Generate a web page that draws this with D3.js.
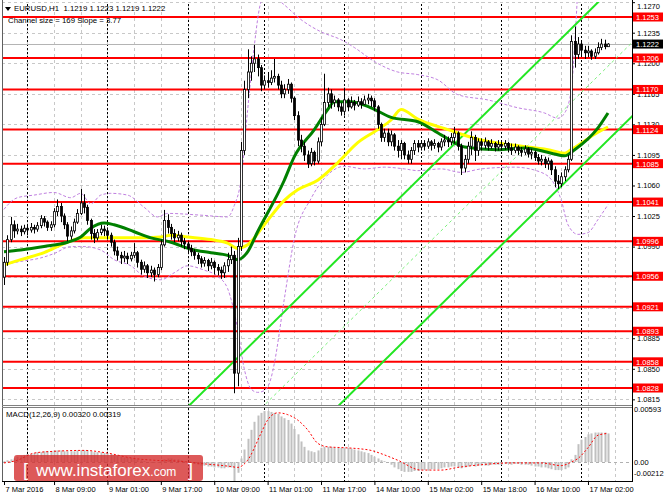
<!DOCTYPE html>
<html><head><meta charset="utf-8">
<script src="https://cdn.jsdelivr.net/npm/d3@7"></script>
<style>body{margin:0;background:#fff}svg{display:block}text{font-family:"Liberation Sans",Arial,sans-serif}</style>
</head><body><svg id="c" width="664" height="498"></svg>
<script>
// ---------- DATA ----------
const symbolTitle = "EURUSD,H1";
const lastQuote = [1.1219, 1.1223, 1.1219, 1.1222];
const channelInfo = "Channel size = 169 Slope = 3.77";
const macdInfo = "MACD(12,26,9) 0.00320 0.00319";
const firstOpen = 1.0955;
const closes = [1.0972,1.0998,1.1015,1.1008,1.1010,1.1007,1.1011,1.1009,1.1012,1.1010,1.1014,1.1022,1.1018,1.1012,1.1015,1.1030,1.1036,1.1025,1.1015,1.1002,
1.1008,1.1018,1.1028,1.1040,1.1035,1.1020,1.1005,1.1000,1.1006,1.1010,1.1008,1.1003,1.0995,1.0985,1.0980,1.0977,1.0979,1.0976,1.0980,1.0983,
1.0972,1.0964,1.0968,1.0960,1.0963,1.0958,1.0966,1.0992,1.1020,1.1012,1.1005,1.1000,1.1003,1.0996,1.0993,1.0988,1.0984,1.0980,1.0976,1.0971,
1.0974,1.0968,1.0972,1.0966,1.0963,1.0960,1.0968,1.0975,1.0980,1.0845,1.0990,1.1100,1.1170,1.1190,1.1200,1.1205,1.1195,1.1175,1.1180,1.1178,
1.1183,1.1185,1.1175,1.1165,1.1170,1.1176,1.1160,1.1140,1.1112,1.1105,1.1095,1.1085,1.1098,1.1088,1.1110,1.1130,1.1155,1.1165,1.1155,1.1158,
1.1150,1.1145,1.1158,1.1150,1.1155,1.1152,1.1156,1.1153,1.1158,1.1160,1.1157,1.1150,1.1130,1.1115,1.1120,1.1110,1.1118,1.1105,1.1100,1.1108,
1.1095,1.1090,1.1100,1.1108,1.1104,1.1108,1.1105,1.1110,1.1106,1.1108,1.1104,1.1110,1.1112,1.1110,1.1115,1.1120,1.1105,1.1080,1.1090,1.1105,
1.1115,1.1100,1.1110,1.1106,1.1110,1.1105,1.1108,1.1104,1.1107,1.1105,1.1108,1.1103,1.1100,1.1104,1.1100,1.1098,1.1102,1.1096,1.1098,1.1092,
1.1088,1.1090,1.1085,1.1088,1.1078,1.1065,1.1062,1.1070,1.1078,1.1090,1.1225,1.1210,1.1222,1.1215,1.1212,1.1214,1.1208,1.1212,1.1218,1.1222,
1.1219,1.1222];
const highs = [1.0978,1.1003,1.1024,1.1020,1.1016,1.1014,1.1015,1.1014,1.1017,1.1015,1.1018,1.1026,1.1025,1.1020,1.1019,1.1034,1.1044,1.1040,1.1028,1.1018,
1.1013,1.1022,1.1033,1.1056,1.1050,1.1038,1.1022,1.1010,1.1010,1.1015,1.1014,1.1012,1.1006,1.0998,1.0990,1.0984,1.0985,1.0983,1.0984,1.0994,
1.0985,1.0975,1.0973,1.0970,1.0968,1.0966,1.0970,1.0998,1.1032,1.1027,1.1016,1.1010,1.1008,1.1006,1.1000,1.0996,1.0992,1.0987,1.0983,1.0979,
1.0978,1.0976,1.0977,1.0974,1.0970,1.0967,1.0972,1.0983,1.0990,1.0985,1.1000,1.1110,1.1180,1.1216,1.1208,1.1221,1.1210,1.1198,1.1186,1.1190,
1.1192,1.1205,1.1188,1.1180,1.1176,1.1182,1.1178,1.1162,1.1145,1.1118,1.1110,1.1100,1.1103,1.1100,1.1115,1.1138,1.1188,1.1172,1.1170,1.1163,
1.1160,1.1155,1.1172,1.1160,1.1162,1.1158,1.1162,1.1160,1.1163,1.1165,1.1163,1.1160,1.1152,1.1132,1.1125,1.1125,1.1123,1.1120,1.1112,1.1112,
1.1110,1.1100,1.1104,1.1112,1.1112,1.1112,1.1112,1.1114,1.1112,1.1113,1.1110,1.1114,1.1118,1.1116,1.1120,1.1127,1.1122,1.1108,1.1095,1.1110,
1.1122,1.1118,1.1114,1.1114,1.1115,1.1112,1.1113,1.1110,1.1112,1.1110,1.1112,1.1110,1.1108,1.1108,1.1106,1.1104,1.1106,1.1104,1.1102,1.1100,
1.1096,1.1095,1.1093,1.1092,1.1090,1.1082,1.1072,1.1075,1.1082,1.1095,1.1232,1.1242,1.1230,1.1225,1.1220,1.1220,1.1216,1.1217,1.1224,1.1228,
1.1227,1.1223];
const lows = [1.0946,1.0968,1.0995,1.1000,1.1004,1.1002,1.1004,1.1003,1.1006,1.1005,1.1007,1.1011,1.1013,1.1008,1.1008,1.1012,1.1025,1.1018,1.1010,1.0996,
1.0998,1.1005,1.1016,1.1026,1.1028,1.1015,1.0998,1.0994,1.0997,1.1003,1.1002,1.0998,1.0990,1.0980,1.0974,1.0970,1.0972,1.0970,1.0973,1.0977,
1.0966,1.0958,1.0960,1.0954,1.0955,1.0950,1.0955,1.0963,1.0990,1.1005,1.0998,1.0995,1.0996,1.0990,1.0987,1.0983,1.0979,1.0975,1.0970,1.0966,
1.0967,1.0962,1.0964,1.0958,1.0957,1.0953,1.0954,1.0961,1.0970,1.0822,1.0830,1.0985,1.1095,1.1160,1.1180,1.1190,1.1185,1.1168,1.1170,1.1172,
1.1175,1.1178,1.1170,1.1160,1.1160,1.1165,1.1155,1.1135,1.1105,1.1098,1.1088,1.1080,1.1082,1.1083,1.1085,1.1105,1.1128,1.1150,1.1148,1.1150,
1.1145,1.1140,1.1140,1.1145,1.1148,1.1146,1.1150,1.1148,1.1152,1.1153,1.1150,1.1145,1.1125,1.1110,1.1110,1.1105,1.1105,1.1100,1.1092,1.1090,
1.1090,1.1085,1.1085,1.1095,1.1098,1.1100,1.1100,1.1102,1.1100,1.1102,1.1098,1.1100,1.1105,1.1104,1.1106,1.1108,1.1100,1.1072,1.1075,1.1085,
1.1095,1.1088,1.1094,1.1100,1.1102,1.1100,1.1102,1.1099,1.1100,1.1100,1.1101,1.1098,1.1095,1.1097,1.1095,1.1093,1.1095,1.1092,1.1090,1.1088,
1.1084,1.1083,1.1080,1.1078,1.1072,1.1058,1.1056,1.1058,1.1065,1.1075,1.1088,1.1195,1.1205,1.1208,1.1205,1.1207,1.1204,1.1205,1.1210,1.1215,
1.1216,1.1219];
// moving averages (bar index, price)
const maGreenBars = [0,5,12,19,23,26,30,33,39,44,50,56,62,67,70,73,76,84,87,93,97,99,104,110,116,124,131,138,148,156,164,168,171,178,181];
const maGreen = [1.0984,1.0986,1.0990,1.0995,1.1001,1.1011,1.1017,1.1015,1.1007,1.1000,1.0995,1.0987,1.0983,1.0980,1.0975,1.0984,1.1007,1.1066,1.1093,1.1124,1.1147,1.1156,1.1156,1.1149,1.1138,1.1133,1.1118,1.1104,1.1101,1.1103,1.1097,1.1094,1.1101,1.1126,1.1143];
const maYellowBars = [0,5,12,19,24,29,39,47,50,55,62,67,70,73,78,84,88,94,100,106,112,116,119,124,133,143,153,163,168,170,178,181];
const maYellow = [1.0969,1.0975,1.0983,1.0995,1.1000,1.1000,1.1000,1.1001,1.1003,1.1001,1.0998,1.0994,1.0988,1.0992,1.1015,1.1043,1.1055,1.1066,1.1086,1.1109,1.1124,1.1135,1.1147,1.1136,1.1124,1.1112,1.1106,1.1101,1.1097,1.1101,1.1121,1.1127];
// envelope bands
const bandUpperBars = [-1,4,9,15,20,23,26,29,32,37,42,46,49,59,67,69,71,73,75,77,79,83,89,95,101,105,111,118,124,130,136,145,154,162,166,168,170,171,172];
const bandUpper = [1.1028,1.1046,1.1049,1.1052,1.1046,1.1051,1.1039,1.1049,1.1051,1.1049,1.1035,1.1024,1.1028,1.1026,1.1024,1.1037,1.1066,1.1146,1.1220,1.1270,1.1280,1.1270,1.1250,1.1236,1.1227,1.1218,1.1202,1.1190,1.1187,1.1181,1.1164,1.1158,1.1149,1.1143,1.1137,1.1143,1.1170,1.1220,1.1290];
const bandLowerBars = [-1,5,11,15,20,24,29,33,38,42,47,51,55,60,64,67,70,72,74,76,78,80,81,84,87,92,96,102,108,114,120,124,131,137,143,153,161,165,167,169,172,175,178,181];
const bandLower = [1.0969,1.0973,1.0977,1.0982,1.0990,1.0990,1.0986,1.0975,1.0968,1.0956,1.0952,1.0960,1.0968,1.0963,1.0956,1.0942,1.0896,1.0850,1.0827,1.0823,1.0825,1.0839,1.0856,1.0930,1.0999,1.1045,1.1068,1.1082,1.1079,1.1081,1.1079,1.1077,1.1079,1.1075,1.1079,1.1081,1.1075,1.1061,1.1043,1.1015,1.1004,1.1006,1.1021,1.1038];
// regression channel
const channelAnchor = [75, 1.0797];
const channelSlope = 0.000377;
const channelSize = 0.0169;
// MACD histogram per bar, signal (bar, value)
const macdMain = [0.0001,0.0002,0.0003,0.0004,0.0006,0.0007,0.0008,0.0009,0.0009,0.0010,0.0011,0.0011,0.0012,0.0012,0.0012,0.0013,0.0013,0.0013,0.0012,0.0012,
0.0012,0.0012,0.0013,0.0013,0.0013,0.0013,0.0012,0.0011,0.0011,0.0011,0.0010,0.0010,0.0009,0.0008,0.0007,0.0006,0.0005,0.0005,0.0004,0.0004,
0.0003,0.0002,0.0001,0.0000,-0.0001,-0.0001,-0.0001,0.0001,0.0003,0.0004,0.0004,0.0003,0.0003,0.0002,0.0001,0.0000,-0.0001,-0.0002,-0.0003,-0.0004,
-0.0004,-0.0005,-0.0005,-0.0006,-0.0006,-0.0007,-0.0007,-0.0006,-0.0006,-0.00212,-0.0012,0.0004,0.0014,0.0026,0.0036,0.0045,0.0052,0.0055,0.0057,0.0057,
0.0056,0.0055,0.0054,0.0051,0.0049,0.0047,0.0043,0.0037,0.0031,0.0023,0.0017,0.0013,0.0012,0.0011,0.0013,0.0016,0.0017,0.0017,0.0017,0.0016,
0.0016,0.0016,0.0016,0.0016,0.0015,0.0014,0.0013,0.0012,0.0011,0.0010,0.0008,0.0006,0.0004,0.0002,0.0001,0.0000,-0.0003,-0.0006,-0.0008,-0.0010,
-0.0011,-0.0011,-0.0011,-0.0010,-0.0010,-0.0009,-0.0009,-0.0009,-0.0008,-0.0008,-0.0008,-0.0007,-0.0006,-0.0006,-0.0005,-0.0005,-0.0006,-0.0007,-0.0006,-0.0005,
-0.0004,-0.0005,-0.0004,-0.0004,-0.0004,-0.0004,-0.0003,-0.0003,-0.0003,-0.0003,-0.0002,-0.0002,-0.0003,-0.0002,-0.0002,-0.0003,-0.0003,-0.0003,-0.0004,-0.0005,
-0.0005,-0.0006,-0.0006,-0.0007,-0.0008,-0.0009,-0.0009,-0.0009,-0.0008,-0.0006,0.0003,0.0008,0.0020,0.0025,0.0028,0.0031,0.0032,0.0033,0.0033,0.0033,
0.0033,0.0032];
const macdSignalBars = [0,4,9,15,24,31,39,45,52,60,68,70,73,77,79,82,85,88,91,94,97,102,106,110,114,118,125,131,136,143,152,161,167,170,172,175,178,181];
const macdSignal = [-0.0001,0.0002,0.0010,0.0012,0.0013,0.0010,0.0004,0.0002,0.0001,-0.0002,-0.0005,-0.0006,0.0002,0.0032,0.0047,0.0055,0.0053,0.0047,0.0036,0.0021,0.0017,0.0016,0.0015,0.0013,0.0008,0.0002,-0.0009,-0.0009,-0.0006,-0.0003,-0.0001,-0.0001,-0.0004,0.0000,0.0004,0.0016,0.0030,0.0032];
// axes
const priceTicks = [1.1270,1.1235,1.1200,1.1165,1.1130,1.1095,1.1060,1.1025,1.0990,1.0955,1.0920,1.0885,1.0850,1.0815];
const levels = [1.1253,1.1206,1.1170,1.1124,1.1085,1.1041,1.0996,1.0956,1.0921,1.0893,1.0858,1.0828];
const currentPrice = 1.1222;
const timeTickBars = [0,15,31,47,63,79,95,111,127,143,159,175];
const timeTickLabels = ["7 Mar 2016","8 Mar 09:00","9 Mar 01:00","9 Mar 17:00","10 Mar 09:00","11 Mar 01:00","11 Mar 17:00","14 Mar 10:00","15 Mar 02:00","15 Mar 18:00","16 Mar 10:00","17 Mar 02:00"];
const daySeparatorBars = [7,31,55,78,102,125,149,173];
const macdTickLabels = ["0.00593","0.00","-0.00212"];

// ---------- DRAW ----------
const svg = d3.select("#c");
const L = 2, R = 632, T = 2, B = 405, MT = 408, MB = 481;
const x = d3.scaleLinear().domain([0, 181]).range([4, 608]);
const y = d3.scaleLinear().domain([1.0828, 1.1253]).range([388, 17]);
const ym = d3.scaleLinear().domain([-0.00212, 0.00593]).range([481, 409]);
const opens = closes.map((c, i) => i === 0 ? firstOpen : closes[i - 1]);

const defs = svg.append("defs");
defs.append("clipPath").attr("id", "cm").append("rect").attr("x", L).attr("y", T).attr("width", R - L).attr("height", B - T);
defs.append("clipPath").attr("id", "cd").append("rect").attr("x", L).attr("y", MT).attr("width", R - L).attr("height", MB - MT);

svg.append("rect").attr("width", 664).attr("height", 498).attr("fill", "#fff");

const gm = svg.append("g").attr("clip-path", "url(#cm)");
const gd = svg.append("g").attr("clip-path", "url(#cd)");

// grids
const vgrid = d3.range(7, 190, 8);
[gm, gd].forEach(g => {
  g.selectAll("line.vg").data(vgrid).join("line").attr("class", "vg")
    .attr("x1", d => Math.round(x(d)) + .5).attr("x2", d => Math.round(x(d)) + .5).attr("y1", 0).attr("y2", 498)
    .attr("stroke", "#c8c8c8").attr("stroke-dasharray", "3,3");
  g.selectAll("line.ds").data(daySeparatorBars).join("line").attr("class", "ds")
    .attr("x1", d => Math.round(x(d)) + .5).attr("x2", d => Math.round(x(d)) + .5).attr("y1", 0).attr("y2", 498)
    .attr("stroke", "#000").attr("stroke-dasharray", "2,2");
});
gm.selectAll("line.hg").data(priceTicks).join("line")
  .attr("x1", L).attr("x2", R).attr("y1", d => Math.round(y(d)) + .5).attr("y2", d => Math.round(y(d)) + .5)
  .attr("stroke", "#c8c8c8").attr("stroke-dasharray", "3,3");
gd.append("line").attr("x1", L).attr("x2", R).attr("y1", Math.round(ym(0)) + .5).attr("y2", Math.round(ym(0)) + .5)
  .attr("stroke", "#b0b0b0").attr("stroke-dasharray", "3,3");

// current price line
gm.append("line").attr("x1", L).attr("x2", R).attr("y1", Math.round(y(currentPrice)) + .5).attr("y2", Math.round(y(currentPrice)) + .5)
  .attr("stroke", "#b4b4b4");

// red levels
gm.selectAll("line.lv").data(levels).join("line")
  .attr("x1", L).attr("x2", R).attr("y1", d => y(d)).attr("y2", d => y(d))
  .attr("stroke", "#ff0000").attr("stroke-width", 2);

// bands
const lineGen = (xs, ys, sc) => d3.line().x((d, i) => x(xs[i])).y(d => sc(d)).curve(d3.curveMonotoneX)(ys);
gm.append("path").attr("d", lineGen(bandUpperBars, bandUpper, y)).attr("fill", "none").attr("stroke", "#c080e0").attr("stroke-dasharray", "3,2");
gm.append("path").attr("d", lineGen(bandLowerBars, bandLower, y)).attr("fill", "none").attr("stroke", "#c080e0").attr("stroke-dasharray", "3,2");

// channel
const chan = off => {
  const i0 = 40, i1 = 195;
  const p = i => channelAnchor[1] + (i - channelAnchor[0]) * channelSlope + off;
  return [[x(i0), y(p(i0))], [x(i1), y(p(i1))]];
};
gm.append("path").attr("d", d3.line()(chan(channelSize / 2))).attr("stroke", "#22e622").attr("stroke-width", 2);
gm.append("path").attr("d", d3.line()(chan(-channelSize / 2))).attr("stroke", "#22e622").attr("stroke-width", 2);
gm.append("path").attr("d", d3.line()(chan(0))).attr("stroke", "#7cf07c").attr("stroke-dasharray", "3,3");

// MAs
gm.append("path").attr("d", lineGen(maYellowBars, maYellow, y)).attr("fill", "none").attr("stroke", "#ffff00").attr("stroke-width", 3);
gm.append("path").attr("d", lineGen(maGreenBars, maGreen, y)).attr("fill", "none").attr("stroke", "#008000").attr("stroke-width", 3);

// candles
const cg = gm.append("g");
closes.forEach((c, i) => {
  const o = opens[i], h = Math.max(highs[i], o, c), l = Math.min(lows[i], o, c);
  const cx = Math.round(x(i)) + .5;
  cg.append("line").attr("x1", cx).attr("x2", cx).attr("y1", y(h)).attr("y2", y(l)).attr("stroke", "#000");
  const top = y(Math.max(o, c)), bh = Math.max(1, Math.abs(y(o) - y(c)));
  cg.append("rect").attr("x", cx - 1).attr("y", top).attr("width", 2).attr("height", bh)
    .attr("fill", c >= o ? "#fff" : "#000").attr("stroke", "#000").attr("stroke-width", 0.8);
});

// MACD
gd.selectAll("rect.h").data(macdMain).join("rect")
  .attr("x", (d, i) => Math.round(x(i)) - 0.5).attr("width", 2)
  .attr("y", d => Math.min(ym(d), ym(0))).attr("height", d => Math.abs(ym(d) - ym(0)))
  .attr("fill", "#c0c0c0");
gd.append("path").attr("d", lineGen(macdSignalBars, macdSignal, ym)).attr("fill", "none")
  .attr("stroke", "#ff0000").attr("stroke-dasharray", "2,2");

// frames
svg.append("line").attr("x1", L + .5).attr("x2", L + .5).attr("y1", 0).attr("y2", MB).attr("stroke", "#606060");
svg.append("line").attr("x1", R + .5).attr("x2", R + .5).attr("y1", 0).attr("y2", MB).attr("stroke", "#000");
svg.append("line").attr("x1", L).attr("x2", R).attr("y1", B + .5).attr("y2", B + .5).attr("stroke", "#808080");
svg.append("line").attr("x1", L).attr("x2", R).attr("y1", B + 2.5).attr("y2", B + 2.5).attr("stroke", "#808080");
svg.append("line").attr("x1", L).attr("x2", R + 1).attr("y1", MB + .5).attr("y2", MB + .5).attr("stroke", "#000");

// price axis
const ax = svg.append("g").attr("transform", `translate(${R},0)`)
  .call(d3.axisRight(y).tickValues(priceTicks).tickFormat(d3.format(".4f")).tickSize(3).tickPadding(2));
ax.select(".domain").remove();
ax.selectAll("text").attr("font-size", "7.5px").attr("font-family", "Liberation Sans, Arial").attr("fill", "#000");
ax.selectAll(".tick").filter(d => y(d) < 6).select("text").attr("y", d => 6 - y(d));

// level labels
const lab = svg.append("g");
levels.forEach(v => {
  lab.append("rect").attr("x", R + 1).attr("y", y(v) - 4.5).attr("width", 30).attr("height", 9).attr("fill", "#ff0000");
  lab.append("text").attr("x", R + 4).attr("y", y(v) + 3).attr("font-size", "7.5px").attr("fill", "#fff").text(d3.format(".4f")(v));
});
lab.append("rect").attr("x", R + 1).attr("y", y(currentPrice) - 4.5).attr("width", 30).attr("height", 9).attr("fill", "#000");
lab.append("text").attr("x", R + 4).attr("y", y(currentPrice) + 3).attr("font-size", "7.5px").attr("fill", "#fff").text(d3.format(".4f")(currentPrice));

// MACD axis labels
const macdLabY = [MT + 4, ym(0) + 3, MB - 5];
macdTickLabels.forEach((t, k) => {
  svg.append("text").attr("x", R + 2).attr("y", macdLabY[k]).attr("font-size", "7.5px").text(t);
});

// time axis
const tx = svg.append("g").attr("transform", `translate(0,${MB})`)
  .call(d3.axisBottom(x).tickValues(timeTickBars).tickFormat((d, i) => timeTickLabels[i]).tickSize(4).tickPadding(2));
tx.select(".domain").remove();
tx.selectAll("text").attr("text-anchor", "start").attr("dx", "1px").attr("font-size", "7.5px").attr("font-family", "Liberation Sans, Arial").attr("fill", "#000");

// header
svg.append("path").attr("d", "M5,7 L11,7 L8,11 Z").attr("fill", "#000");
svg.append("text").attr("x", 14).attr("y", 11).attr("font-size", "7.8px").attr("xml:space", "preserve")
  .text(symbolTitle + "  " + lastQuote.map(d3.format(".4f")).join(" "));
svg.append("text").attr("x", 8).attr("y", 23).attr("font-size", "7.8px").text(channelInfo);
svg.append("text").attr("x", 6).attr("y", 417).attr("font-size", "7.8px").text(macdInfo);

// watermark
const wm = svg.append("g");
wm.append("rect").attr("x", 14).attr("y", 455).attr("width", 189).attr("height", 26).attr("rx", 3)
  .attr("fill", "#d42a2a").attr("fill-opacity", 0.78);
wm.append("text").attr("x", 23).attr("y", 476).attr("font-size", "18px").attr("fill", "#fff").text("[");
wm.append("text").attr("x", 36).attr("y", 476).attr("fill", "#fff")
  .call(t => { t.append("tspan").attr("font-size", "17px").text("www.instaforex"); t.append("tspan").attr("font-size", "12px").text(".com"); });
wm.append("text").attr("x", 188).attr("y", 476).attr("font-size", "18px").attr("fill", "#fff").text("]");
</script>
</body></html>
